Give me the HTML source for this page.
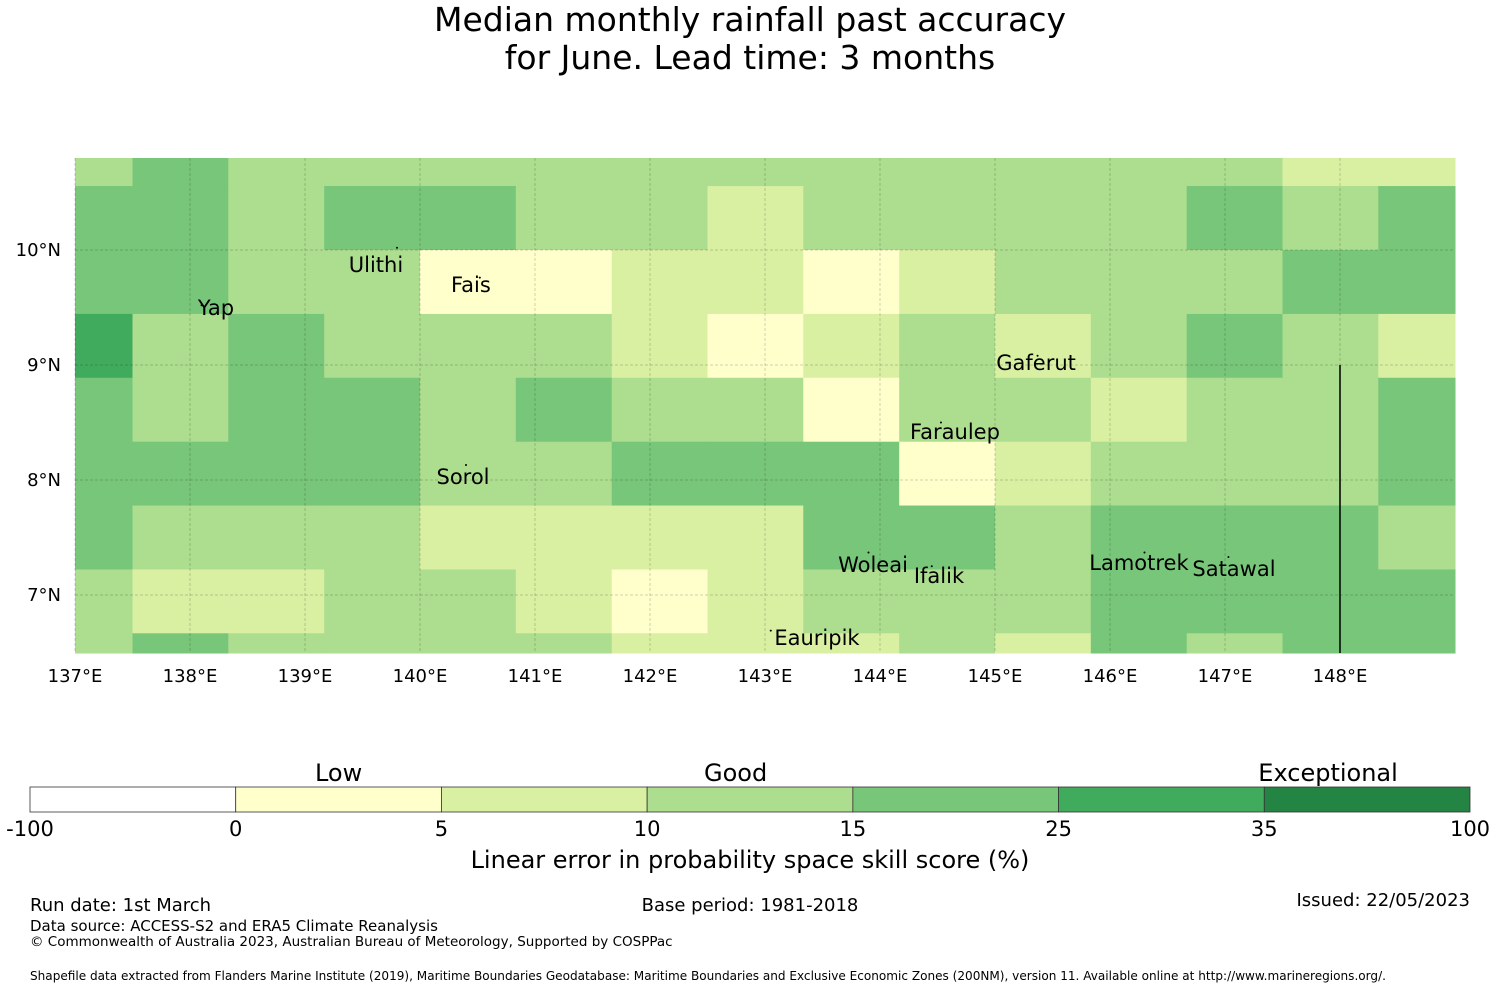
<!DOCTYPE html>
<html><head><meta charset="utf-8"><style>
body{margin:0;background:#fff;font-family:"DejaVu Sans","Liberation Sans",sans-serif;}
svg text{font-family:"DejaVu Sans","Liberation Sans",sans-serif;}
</style></head><body>
<svg id="chart" width="1500" height="990" xmlns="http://www.w3.org/2000/svg">
<rect width="1500" height="990" fill="#fff"/>
<text x="750" y="31" font-size="33" text-anchor="middle">Median monthly rainfall past accuracy</text>
<text x="750" y="69" font-size="33" text-anchor="middle">for June. Lead time: 3 months</text>
<g id="cells"></g><g id="grid"></g><g id="labels"></g><g id="cbar"></g>
<text x="750" y="868" font-size="24" text-anchor="middle">Linear error in probability space skill score (%)</text>
<text x="30" y="911" font-size="18">Run date: 1st March</text>
<text x="750" y="911" font-size="18" text-anchor="middle">Base period: 1981-2018</text>
<text x="1470" y="906" font-size="18" text-anchor="end">Issued: 22/05/2023</text>
<text x="30" y="931" font-size="15">Data source: ACCESS-S2 and ERA5 Climate Reanalysis</text>
<text x="30" y="946" font-size="13.5">© Commonwealth of Australia 2023, Australian Bureau of Meteorology, Supported by COSPPac</text>
<text x="30" y="980" font-size="12" textLength="1356" lengthAdjust="spacingAndGlyphs">Shapefile data extracted from Flanders Marine Institute (2019), Maritime Boundaries Geodatabase: Maritime Boundaries and Exclusive Economic Zones (200NM), version 11. Available online at http://www.marineregions.org/.</text>
</svg>
<script>
const lonTicks=[137,138,139,140,141,142,143,144,145,146,147,148];
const latTicks=[10,9,8,7];
const lonEdges=[136.667,137.5,138.333,139.167,140,140.833,141.667,142.5,143.333,144.167,145,145.833,146.667,147.5,148.333,149.167];
const latEdges=[11.0,10.556,10.0,9.444,8.889,8.333,7.778,7.222,6.667,6.111];
const skill=[
[12,20,12,12,12,12,12,12,12,12,12,12,12,8,8],
[20,20,12,20,20,12,12,8,12,12,12,12,20,12,20],
[20,20,12,12,3,3,8,8,3,8,12,12,12,20,20],
[30,12,20,12,12,12,8,3,8,12,8,12,20,12,8],
[20,12,20,20,12,20,12,12,3,12,12,8,12,12,20],
[20,20,20,20,12,12,20,20,20,3,8,12,12,12,20],
[20,12,12,12,8,8,8,8,20,20,12,20,20,20,12],
[12,8,8,12,12,8,3,8,12,12,12,20,20,20,20],
[12,20,12,12,12,12,8,8,8,12,8,20,12,20,20]];
const binEdges=[-100,0,5,10,15,25,35,100];
const binColors=["#ffffff","#ffffcc","#d9f0a3","#addd8e","#78c679","#41ab5d","#238443"];
const cbarTicks=["-100","0","5","10","15","25","35","100"];
const islands=[["Ulithi",139.8,10.02,139.617,9.809],["Fais",140.52,9.76,140.443,9.635],["Yap",138.1,9.52,138.226,9.435],["Gaferut",145.37,9.08,145.357,8.957],["Faraulep",144.53,8.5,144.652,8.357],["Sorol",140.4,8.13,140.374,7.965],["Woleai",143.9,7.37,143.939,7.2],["Ifalik",144.45,7.25,144.513,7.104],["Lamotrek",146.3,7.37,146.252,7.217],["Satawal",147.03,7.33,147.078,7.165],["Eauripik",143.05,6.69,143.452,6.565]];
const catLabels=[["Low",1.5],["Good",3.43],["Exceptional",6.31]];
const NS="http://www.w3.org/2000/svg";
const X0=75,X1=1455,Y0=158,Y1=653;
const xs=lon=>X0+(lon-137)*115;
const ys=lat=>250+(10-lat)*115;
const cx=v=>Math.max(X0,Math.min(X1,v)),cy=v=>Math.max(Y0,Math.min(Y1,v));
function mk(tag,attrs,parent){const e=document.createElementNS(NS,tag);for(const k in attrs)e.setAttribute(k,attrs[k]);parent.appendChild(e);return e;}
function color(v){for(let i=0;i<binEdges.length-1;i++)if(v<binEdges[i+1])return binColors[i];return binColors[binColors.length-1];}
const cells=document.getElementById('cells');
skill.forEach((row,r)=>row.forEach((v,c)=>{
 const x0=cx(xs(lonEdges[c])),x1=cx(xs(lonEdges[c+1])),y0=cy(ys(latEdges[r])),y1=cy(ys(latEdges[r+1]));
 const el=mk('rect',{x:x0,y:y0,width:x1-x0+0.5,height:y1-y0+0.5,fill:color(v)},cells);
 
 
}));
const grid=document.getElementById('grid');
lonTicks.forEach(l=>{
 const x=xs(l);
 const g=mk('line',{x1:x,x2:x,y1:Y0,y2:Y1,stroke:'rgba(0,0,0,0.18)','stroke-dasharray':'3,2'},grid);
 
 
 const t=mk('text',{x:x,y:682,'font-size':18,'text-anchor':'middle'},grid);t.textContent=l+'°E';
 
 
});
latTicks.forEach(l=>{
 const y=ys(l);
 const g=mk('line',{x1:X0,x2:X1,y1:y,y2:y,stroke:'rgba(0,0,0,0.18)','stroke-dasharray':'3,2'},grid);
 
 
 const t=mk('text',{x:61,y:y+6,'font-size':18,'text-anchor':'end'},grid);t.textContent=l+'°N';
 
 
});
const eez=mk('line',{x1:xs(148),x2:xs(148),y1:ys(9),y2:Y1,stroke:'#000','stroke-width':1.5},grid);


const lab=document.getElementById('labels');
islands.forEach(([n,lon,lat,tlon,tlat])=>{
 const d=mk('circle',{cx:xs(lon),cy:ys(lat),r:1,fill:'#000'},lab);
 
 
 const t=mk('text',{x:xs(tlon),y:ys(tlat),'font-size':21,'text-anchor':'middle'},lab);t.textContent=n;
 
 
});
const cb=document.getElementById('cbar');
const cw=1440/binColors.length;
binColors.forEach((c,i)=>{
 const r=mk('rect',{x:30+i*cw,y:787,width:cw,height:25,fill:c,stroke:'#333','stroke-width':0.8},cb);
 
 
});
cbarTicks.forEach((s,i)=>{
 const t=mk('text',{x:30+i*cw,y:836,'font-size':21,'text-anchor':'middle'},cb);t.textContent=s;
 
 
});
catLabels.forEach(([s,p])=>{
 const t=mk('text',{x:30+p*cw,y:781,'font-size':24,'text-anchor':'middle'},cb);t.textContent=s;
 
 
});
</script>
</body></html>
